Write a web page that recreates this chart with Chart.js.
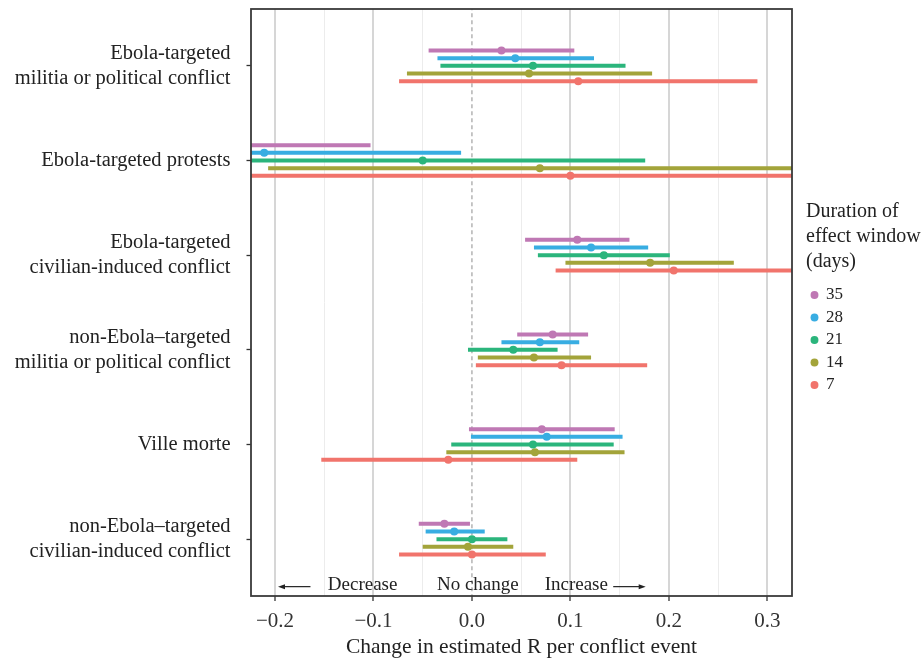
<!DOCTYPE html>
<html>
<head>
<meta charset="utf-8">
<script src="https://cdn.jsdelivr.net/npm/chart.js@4.4.1/dist/chart.umd.min.js"></script>
<style>
  html, body { margin: 0; padding: 0; background: #fff; }
  #wrap { width: 922px; height: 660px; }
</style>
</head>
<body>
<div id="wrap"><canvas id="chart"></canvas></div>
<script>
// categories, top to bottom
const categories = [
  ['Ebola-targeted', 'militia or political conflict'],
  'Ebola-targeted protests',
  ['Ebola-targeted', 'civilian-induced conflict'],
  ['non-Ebola\u2013targeted', 'militia or political conflict'],
  'Ville morte',
  ['non-Ebola\u2013targeted', 'civilian-induced conflict']
];
const windows = ['35', '28', '21', '14', '7'];
const colors = ['#BF78B4', '#38ADE2', '#2BB57C', '#A3A43A', '#F1746C'];
const legendTitle = ['Duration of', 'effect window', '(days)'];

// point estimates and interval ends, one array per effect window
const est35 = [0.030, -0.265, 0.107, 0.082, 0.071, -0.028];
const lo35  = [-0.044, -0.400, 0.054, 0.046, -0.003, -0.054];
const hi35  = [0.104, -0.103, 0.160, 0.118, 0.145, -0.002];

const est28 = [0.044, -0.211, 0.121, 0.069, 0.076, -0.018];
const lo28  = [-0.035, -0.420, 0.063, 0.030, -0.001, -0.047];
const hi28  = [0.124, -0.011, 0.179, 0.109, 0.153, 0.013];

const est21 = [0.062, -0.050, 0.134, 0.042, 0.062, 0.000];
const lo21  = [-0.032, -0.350, 0.067, -0.004, -0.021, -0.036];
const hi21  = [0.156, 0.176, 0.201, 0.087, 0.144, 0.036];

const est14 = [0.058, 0.069, 0.181, 0.063, 0.064, -0.004];
const lo14  = [-0.066, -0.207, 0.095, 0.006, -0.026, -0.050];
const hi14  = [0.183, 0.400, 0.266, 0.121, 0.155, 0.042];

const est7 = [0.108, 0.100, 0.205, 0.091, -0.024, 0.000];
const lo7  = [-0.074, -0.300, 0.085, 0.004, -0.153, -0.074];
const hi7  = [0.290, 0.500, 0.380, 0.178, 0.107, 0.075];

const ests = [est35, est28, est21, est14, est7];
const los = [lo35, lo28, lo21, lo14, lo7];
const his = [hi35, hi28, hi21, hi14, hi7];

// x axis ticks
const xMajor = [-0.2, -0.1, 0, 0.1, 0.2, 0.3];
const xLabels = ['\u22120.2', '\u22120.1', '0.0', '0.1', '0.2', '0.3'];
const xMinor = [-0.15, -0.05, 0.05, 0.15, 0.25];

// direction notes under the bars
const noteText = ['Decrease', 'No change', 'Increase'];
const noteX = [-0.111, 0.006, 0.106];

const FONT = '"Liberation Serif", "Times New Roman", serif';
const dodge = [-0.162, -0.081, 0, 0.081, 0.162];

const isMajor = v => xMajor.some(m => Math.abs(m - v) < 1e-9);

const pointSets = windows.map((w, s) => ({
  label: w,
  data: ests[s].map((v, i) => ({ x: v, y: i + 1 + dodge[s] })),
  backgroundColor: colors[s],
  borderWidth: 0,
  pointRadius: 4,
  pointHoverRadius: 4,
  clip: 0,
  order: 0
}));

const lineSets = windows.map((w, s) => ({
  label: 'ci' + w,
  data: categories.flatMap((c, i) => [
    { x: los[s][i], y: i + 1 + dodge[s] },
    { x: his[s][i], y: i + 1 + dodge[s] },
    { x: his[s][i], y: null }
  ]),
  showLine: true,
  spanGaps: false,
  borderColor: colors[s],
  borderWidth: 4,
  borderCapStyle: 'butt',
  pointRadius: 0,
  clip: 0,
  order: 1
}));

const zeroSet = {
  label: 'zero',
  data: [{ x: 0, y: 0 }, { x: 0, y: 7 }],
  showLine: true,
  borderColor: '#a8a8a8',
  borderWidth: 1.3,
  borderDash: [4, 3],
  pointRadius: 0,
  clip: 0,
  order: 2
};

const frame = {
  id: 'frame',
  afterDatasetsDraw(chart) {
    const { ctx, chartArea: a, scales: { x, y }, legend } = chart;
    ctx.save();
    ctx.strokeStyle = '#3a3a3a';
    ctx.lineWidth = 1.8;
    ctx.strokeRect(a.left, a.top, a.right - a.left, a.bottom - a.top);

    // legend title, three lines above the legend items
    ctx.font = '20px ' + FONT;
    ctx.fillStyle = '#222';
    ctx.textAlign = 'left';
    ctx.textBaseline = 'middle';
    legendTitle.forEach((t, i) => ctx.fillText(t, legend.left, legend.top + 203 + i * 25));

    const ty = y.getPixelForValue(6.48);
    ctx.font = '19px ' + FONT;
    ctx.textAlign = 'center';
    noteText.forEach((t, i) => ctx.fillText(t, x.getPixelForValue(noteX[i]), ty));

    // arrows
    const ay = ty + 2;
    const arrow = (from, to) => {
      const x0 = x.getPixelForValue(from), x1 = x.getPixelForValue(to);
      const dir = Math.sign(x1 - x0);
      ctx.strokeStyle = '#222';
      ctx.lineWidth = 1.2;
      ctx.beginPath();
      ctx.moveTo(x0, ay);
      ctx.lineTo(x1 - dir * 5, ay);
      ctx.stroke();
      ctx.beginPath();
      ctx.moveTo(x1, ay);
      ctx.lineTo(x1 - dir * 7, ay - 2.5);
      ctx.lineTo(x1 - dir * 7, ay + 2.5);
      ctx.closePath();
      ctx.fill();
    };
    arrow(-0.164, -0.197);
    arrow(0.1435, 0.1765);
    ctx.restore();
  }
};

new Chart(document.getElementById('chart'), {
  type: 'scatter',
  data: { datasets: [...pointSets, ...lineSets, zeroSet] },
  options: {
    responsive: true,
    maintainAspectRatio: false,
    animation: false,
    layout: { padding: { top: 9, right: 69, bottom: 0, left: 0 } },
    plugins: {
      tooltip: { enabled: false },
      legend: {
        position: 'right',
        align: 'start',
        labels: {
          filter: item => item.datasetIndex < windows.length,
          usePointStyle: true,
          pointStyle: 'circle',
          boxWidth: 6,
          boxHeight: 5.6,
          padding: 5.5,
          color: '#222',
          font: { family: FONT, size: 17 }
        },
        title: {
          // space for the title lines drawn by the frame plugin
          display: true,
          text: '',
          font: { family: FONT, size: 20, lineHeight: 1.25 },
          padding: { top: 193, bottom: 54, left: 0, right: 0 }
        }
      }
    },
    scales: {
      x: {
        type: 'linear',
        min: -0.2244,
        max: 0.3251,
        afterBuildTicks: s => { s.ticks = [...xMajor, ...xMinor].sort((a, b) => a - b).map(v => ({ value: v })); },
        afterFit: s => { s.height = 64; s.paddingLeft = 0; s.paddingRight = 0; },
        grid: {
          color: c => (Math.abs(c.tick.value) < 1e-9 ? 'rgba(0,0,0,0)' : isMajor(c.tick.value) ? '#d6d6d6' : '#ececec'),
          lineWidth: c => (isMajor(c.tick.value) ? 2 : 1),
          tickColor: c => (isMajor(c.tick.value) ? '#333' : 'rgba(0,0,0,0)'),
          tickLength: 5,
          tickWidth: 1.3
        },
        border: { display: false },
        ticks: {
          autoSkip: false,
          maxRotation: 0,
          padding: 8,
          color: '#333',
          font: { family: FONT, size: 21 },
          callback: v => {
            const k = xMajor.findIndex(m => Math.abs(m - v) < 1e-9);
            return k >= 0 ? xLabels[k] : '';
          }
        },
        title: {
          display: true,
          text: 'Change in estimated R per conflict event',
          color: '#222',
          font: { family: FONT, size: 21.5 },
          padding: { top: 0, bottom: 0 }
        }
      },
      y: {
        type: 'linear',
        reverse: true,
        min: 0.4,
        max: 6.6,
        afterBuildTicks: s => { s.ticks = categories.map((c, i) => ({ value: i + 1 })); },
        afterFit: s => { s.width = 251; s.paddingTop = 0; s.paddingBottom = 0; },
        grid: {
          drawOnChartArea: false,
          drawTicks: true,
          tickLength: 4.5,
          tickColor: '#333',
          tickWidth: 1.3
        },
        border: { display: false },
        ticks: {
          padding: 16,
          color: '#222',
          font: { family: FONT, size: 20.5, lineHeight: 1.22 },
          callback: v => categories[Math.round(v) - 1]
        }
      },
      y2: {
        type: 'linear',
        position: 'right',
        grid: { display: false },
        border: { display: false },
        ticks: { display: false },
        afterFit: s => { s.width = 14; s.paddingTop = 0; s.paddingBottom = 0; }
      }
    }
  },
  plugins: [frame]
});
</script>
</body>
</html>
